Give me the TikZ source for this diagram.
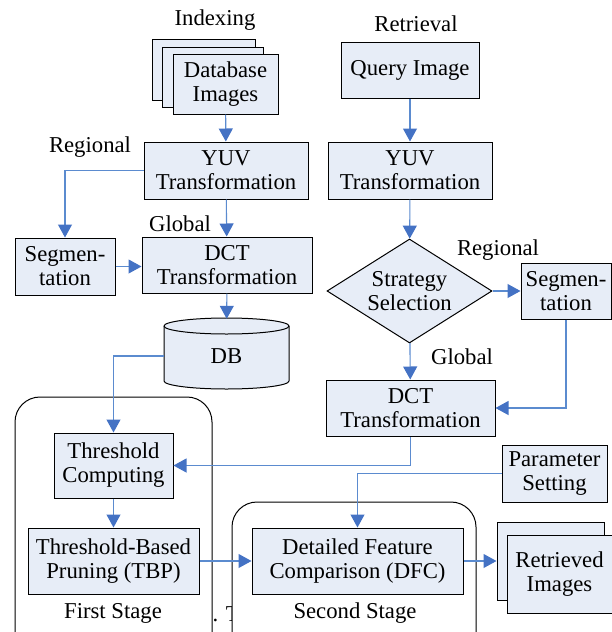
\documentclass[tikz,border=0pt]{standalone}
\usepackage{fontspec}
\setmainfont{Liberation Serif}
\newfontfamily\timesfont{Liberation Serif}
\usetikzlibrary{positioning,arrows.meta,shapes.geometric}
\definecolor{boxfill}{RGB}{231,237,247}
\definecolor{linkblue}{RGB}{91,139,207}
\definecolor{tipblue}{RGB}{68,114,196}
\tikzset{%
  block/.style={draw, rectangle, fill=boxfill, line width=1pt, align=center,
    inner sep=0pt, font=\timesfont\fontsize{22.7}{24}\selectfont},% process box
  choice/.style={block, diamond, aspect=1.6},% strategy decision
  stage/.style={draw, rectangle, rounded corners=25pt, line width=1pt, fill=white},% stage frame
  caption/.style={font=\timesfont\fontsize{22.7}{24}\selectfont},% free label
  flow/.style={draw=linkblue, line width=1.1pt,
    -{Triangle[length=13pt, width=14pt, color=tipblue]}}% blue connector
}

\begin{document}
\begin{tikzpicture}[x=1pt, y=1pt]
\useasboundingbox (0,0) rectangle (612,-632);
% stage frames
\node[stage, minimum width=197pt, minimum height=263pt] (first) at (113.5,-528.5) {};
\node[caption, anchor=base west] (cut) at (209,-621) {. T};
\node[stage, minimum width=244pt, minimum height=158pt] (second) at (354,-581) {};

% indexing side
\node[caption] (indexing) at (215,-20) {Indexing};
\node[block, minimum width=103pt, minimum height=61pt] (dbimgC) at (203.5,-69.5) {};
\node[block, minimum width=101pt, minimum height=60pt] (dbimgB) at (212.5,-77) {};
\node[block, minimum width=105pt, minimum height=60pt] (dbimg) at (225.5,-84) {Database\\Images};
\node[block, minimum width=164pt, minimum height=57pt] (yuvA) at (226,-170.5) {YUV\\Transformation};
\node[caption] (regionalA) at (90,-147) {Regional};
\node[block, minimum width=100pt, minimum height=57pt] (segA) at (65,-266.5) {Segmen-\\tation};
\node[caption] (globalA) at (180,-224) {Global};
\node[block, minimum width=170pt, minimum height=56pt] (dctA) at (227,-265) {DCT\\Transformation};
\draw[fill=boxfill, line width=1pt] (164,-326) arc (180:0:62.5 and 8) -- (289,-381)
  arc (0:-180:62.5 and 8) -- cycle;
\draw[line width=1pt] (164,-326) arc (180:360:62.5 and 8);
\node[caption, minimum width=125pt, minimum height=74pt] (db) at (226.5,-356) {DB};

% retrieval side
\node[caption] (retrieval) at (416,-24) {Retrieval};
\node[block, minimum width=138pt, minimum height=56pt] (query) at (410,-70) {Query Image};
\node[block, minimum width=164pt, minimum height=57pt] (yuvB) at (410,-170.5) {YUV\\Transformation};
\node[choice, minimum width=165pt, minimum height=104pt] (strategy) at (409.5,-291) {Strategy\\Selection};
\node[caption] (regionalB) at (498,-250) {Regional};
\node[block, minimum width=90pt, minimum height=56pt] (segB) at (566,-291) {Segmen-\\tation};
\node[caption] (globalB) at (462,-357) {Global};
\node[block, minimum width=169pt, minimum height=56pt] (dctB) at (410.5,-408) {DCT\\Transformation};
\node[block, minimum width=105pt, minimum height=57pt] (param) at (554.5,-473.5) {Parameter\\Setting};

% two stages
\node[block, minimum width=119pt, minimum height=65pt] (thcomp) at (113.5,-465.5) {Threshold\\Computing};
\node[block, minimum width=171pt, minimum height=66pt] (tbp) at (113.5,-561) {Threshold-Based\\Pruning (TBP)};
\node[caption] (firstlabel) at (113,-613) {First Stage};
\node[block, minimum width=211pt, minimum height=66pt] (dfc) at (357.5,-561) {Detailed Feature\\Comparison (DFC)};
\node[caption] (secondlabel) at (355,-613) {Second Stage};
\node[block, minimum width=107pt, minimum height=78pt] (retrB) at (550.5,-561) {};
\node[block, minimum width=105pt, minimum height=78pt] (retr) at (559.5,-574) {Retrieved\\Images};

\draw[flow] (dbimg) -- (yuvA);
\draw[flow] (yuvA.west) -| (segA.north);
\draw[flow] (yuvA) -- (dctA);
\draw[flow] (segA.east) -- (segA.east -| dctA.west);
\draw[flow] (dctA) -- (db);
\draw[flow] (db.west) -| (thcomp.north);
\draw[flow] (query) -- (yuvB);
\draw[flow] (yuvB) -- (strategy);
\draw[flow] (strategy) -- (segB);
\draw[flow] (strategy) -- (dctB);
\draw[flow] (segB.south) |- (dctB.east);
\draw[flow] (dctB.south) |- (thcomp.east);
\draw[flow] (thcomp) -- (tbp);
\draw[flow] (tbp) -- (dfc);
\draw[flow] (param.west) -| (dfc.north);
\draw[flow] (dfc.east) -- (dfc.east -| retrB.west);
\end{tikzpicture}
\end{document}
